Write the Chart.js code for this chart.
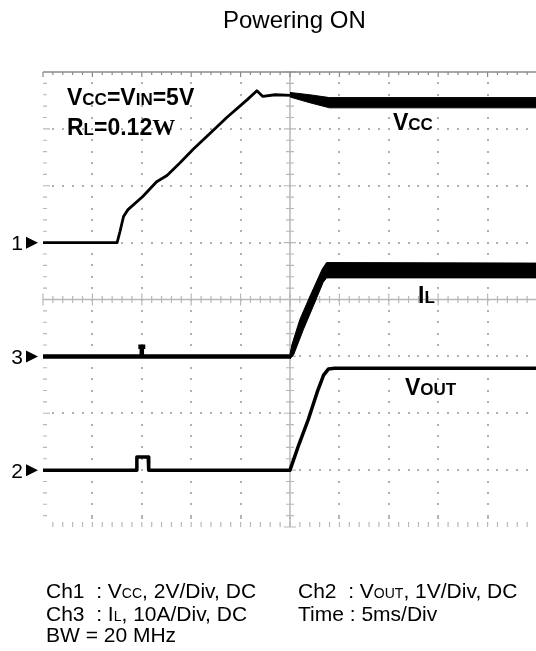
<!DOCTYPE html>
<html><head><meta charset="utf-8">
<script src="https://cdn.jsdelivr.net/npm/chart.js@4/dist/chart.umd.min.js"></script>
<style>
html,body{margin:0;padding:0;background:#fff;overflow:hidden}
#wrap{width:536px;height:651px;overflow:hidden;position:relative;background:#fff}
canvas{display:block}
</style></head><body>
<div id="wrap"><canvas id="c" width="560" height="651"></canvas></div>
<script>
// ---- data (units: scope divisions; x: -5..5, y: -4..4) ----
const titleText = "Powering ON";
const channelMarkers = ["1", "3", "2"];
const markerLevels = [1, -1, -3];

// Ch1 Vcc
const vccX = [-5, -3.50, -3.44, -3.37, -3.28, -2.98, -2.70, -2.49, -2.23, -1.96, -1.68, -1.28, -0.87, -0.67, -0.55, -0.30, 0.02];
const vccY = [1.0, 1.0, 1.2, 1.46, 1.58, 1.81, 2.07, 2.18, 2.40, 2.64, 2.87, 3.20, 3.51, 3.67, 3.57, 3.60, 3.59];
const vccBandX = [0, 0.4, 0.8, 5];
const vccBandTop = [3.64, 3.60, 3.55, 3.55];
const vccBandBottom = [3.56, 3.46, 3.37, 3.37];

// Ch3 IL
const ilX = [-5, -3.0, -3.0, -3.07, -2.93, -3.0, -3.0, 0.02];
const ilY = [-1, -1, -0.83, -0.83, -0.83, -0.83, -1, -1];
const ilTopX = [0, 0.04, 0.2, 0.4, 0.65, 0.74, 5];
const ilTopY = [-0.96, -0.79, -0.35, 0.05, 0.53, 0.65, 0.64];
const ilBotX = [0, 0.07, 0.27, 0.47, 0.67, 0.74, 5];
const ilBotY = [-1.04, -0.98, -0.53, -0.12, 0.30, 0.38, 0.38];

// Ch2 Vout
const voutX = [-5, -3.11, -3.10, -2.87, -2.86, 0, 0.18, 0.37, 0.55, 0.68, 0.78, 0.9, 5];
const voutY = [-3, -3, -2.77, -2.77, -3, -3, -2.55, -2.11, -1.63, -1.33, -1.22, -1.21, -1.21];

const footerLeft = [
  [["Ch1  : V", 0], ["CC", 1], [", 2V/Div, DC", 0]],
  [["Ch3  : I", 0], ["L", 1], [", 10A/Div, DC", 0]],
  [["BW = 20 MHz", 0]]
];
const footerRight = [
  [["Ch2  : V", 0], ["OUT", 1], [", 1V/Div, DC", 0]],
  [["Time : 5ms/Div", 0]]
];

const pts = (xs, ys) => xs.map((x, i) => ({x: x, y: ys[i]}));

const SANS = '"Liberation Sans", Arial, Helvetica, sans-serif';
const SERIF = '"Liberation Serif", "Times New Roman", serif';

function drawRuns(ctx, x, y, runs, fonts) {
  for (const [t, f] of runs) {
    ctx.font = fonts[f];
    ctx.fillText(t, x, y);
    x += ctx.measureText(t).width;
  }
  return x;
}

const gridPlugin = {
  id: 'scopeGrid',
  beforeDatasetsDraw(chart) {
    const ctx = chart.ctx, xs = chart.scales.x, ys = chart.scales.y;
    const X = v => xs.getPixelForValue(v), Y = v => ys.getPixelForValue(v);
    ctx.save();
    // dotted major lines
    ctx.fillStyle = '#b0b0b0';
    for (let gx = -4; gx <= 4; gx++) {
      if (gx === 0) continue;
      for (let i = -19; i <= 19; i++) {
        ctx.fillRect(Math.round(X(gx)) - 1, Math.round(Y(i / 5)) - 1, 2, 2);
      }
    }
    for (let gy = -3; gy <= 3; gy++) {
      if (gy === 0) continue;
      for (let i = -24; i <= 25; i++) {
        ctx.fillRect(Math.round(X(i / 5)) - 1, Math.round(Y(gy)) - 1, 2, 2);
      }
    }
    // center cross
    ctx.strokeStyle = '#b8b8b8';
    ctx.lineWidth = 1.5;
    ctx.beginPath();
    ctx.moveTo(X(-5), Y(0)); ctx.lineTo(X(5), Y(0));
    ctx.moveTo(X(0), Y(4)); ctx.lineTo(X(0), Y(-4));
    ctx.stroke();
    ctx.lineWidth = 1.2;
    ctx.beginPath();
    for (let i = -25; i <= 25; i++) {
      const h = (i % 5 === 0) ? 6 : 3.5;
      ctx.moveTo(X(i / 5), Y(0) - h); ctx.lineTo(X(i / 5), Y(0) + h);
    }
    for (let i = -20; i <= 20; i++) {
      const h = (i % 5 === 0) ? 6 : 4;
      ctx.moveTo(X(0) - h, Y(i / 5)); ctx.lineTo(X(0) + h, Y(i / 5));
    }
    ctx.stroke();
    // top border
    ctx.strokeStyle = '#8a8a8a';
    ctx.lineWidth = 1.5;
    ctx.beginPath();
    ctx.moveTo(X(-5), Y(4)); ctx.lineTo(X(5), Y(4));
    ctx.stroke();
    ctx.lineWidth = 1.2;
    ctx.beginPath();
    for (let i = -25; i <= 25; i++) {
      const h = (i % 5 === 0) ? 5 : 3;
      ctx.moveTo(X(i / 5), Y(4)); ctx.lineTo(X(i / 5), Y(4) + h);
    }
    ctx.stroke();
    // left edge ticks
    ctx.strokeStyle = '#b8b8b8';
    ctx.beginPath();
    for (let i = -19; i <= 19; i++) {
      const w = (i % 5 === 0) ? 7 : 4;
      ctx.moveTo(X(-5), Y(i / 5)); ctx.lineTo(X(-5) + w, Y(i / 5));
    }
    ctx.stroke();
    // bottom edge ticks
    ctx.beginPath();
    for (let i = -24; i <= 25; i++) {
      ctx.moveTo(X(i / 5), Y(-4)); ctx.lineTo(X(i / 5), Y(-4) - 5);
    }
    ctx.stroke();
    ctx.fillStyle = '#b8b8b8';
    for (let gx = -4; gx <= 4; gx++) {
      ctx.fillRect(Math.round(X(gx)) - 1, Math.round(Y(-4)) - 10, 2, 2);
    }
    ctx.restore();
  }
};

const textPlugin = {
  id: 'scopeText',
  afterDatasetsDraw(chart) {
    const ctx = chart.ctx, ys = chart.scales.y;
    ctx.save();
    ctx.fillStyle = '#000';
    ctx.textAlign = 'left';
    ctx.textBaseline = 'alphabetic';
    // title
    ctx.font = '24px ' + SANS;
    ctx.fillText(titleText, 223, 28);
    // channel markers
    for (let i = 0; i < channelMarkers.length; i++) {
      const py = ys.getPixelForValue(markerLevels[i]);
      ctx.font = '21px ' + SANS;
      ctx.textAlign = 'right';
      ctx.fillText(channelMarkers[i], 23, py + 7.5);
      ctx.textAlign = 'left';
      ctx.beginPath();
      ctx.moveTo(26, py - 6); ctx.lineTo(38, py); ctx.lineTo(26, py + 6); ctx.closePath();
      ctx.fill();
    }
    // in-plot labels
    const bf = ['bold 23px ' + SANS, 'bold 17px ' + SANS, 'bold 23px ' + SERIF];
    drawRuns(ctx, 67, 105, [["V", 0], ["CC", 1], ["=V", 0], ["IN", 1], ["=5V", 0]], bf);
    drawRuns(ctx, 67, 135, [["R", 0], ["L", 1], ["=0.12", 0], ["W", 2]], bf);
    drawRuns(ctx, 393, 130, [["V", 0], ["CC", 1]], bf);
    drawRuns(ctx, 418, 303, [["I", 0], ["L", 1]], bf);
    drawRuns(ctx, 405, 395, [["V", 0], ["OUT", 1]], bf);
    // footer
    const ff = ['21px ' + SANS, '14px ' + SANS];
    const base = [598, 621, 642];
    footerLeft.forEach((r, i) => drawRuns(ctx, 46, base[i], r, ff));
    footerRight.forEach((r, i) => drawRuns(ctx, 298, base[i], r, ff));
    ctx.restore();
  }
};

const ds = (data, w, extra) => Object.assign({
  data: data, borderColor: '#000', backgroundColor: '#000', borderWidth: w,
  pointRadius: 0, tension: 0, fill: false, borderJoinStyle: 'round', borderCapStyle: 'butt'
}, extra || {});

new Chart(document.getElementById('c'), {
  type: 'line',
  data: {
    datasets: [
      ds(pts(vccX, vccY), 2.8),
      ds(pts(vccBandX, vccBandTop), 1, {fill: '+1'}),
      ds(pts(vccBandX, vccBandBottom), 1),
      ds(pts(ilX, ilY), 4.5, {borderJoinStyle: 'miter'}),
      ds(pts(ilTopX, ilTopY), 1, {fill: '+1'}),
      ds(pts(ilBotX, ilBotY), 1),
      ds(pts(voutX, voutY), 3.5)
    ]
  },
  options: {
    responsive: false,
    animation: false,
    layout: {padding: {left: 43, top: 72, right: 23, bottom: 124}},
    scales: {
      x: {type: 'linear', min: -5, max: 5, display: false},
      y: {type: 'linear', min: -4, max: 4, display: false}
    },
    plugins: {legend: {display: false}, tooltip: {enabled: false}, title: {display: false}},
    clip: false
  },
  plugins: [gridPlugin, textPlugin]
});
</script>
</body></html>
